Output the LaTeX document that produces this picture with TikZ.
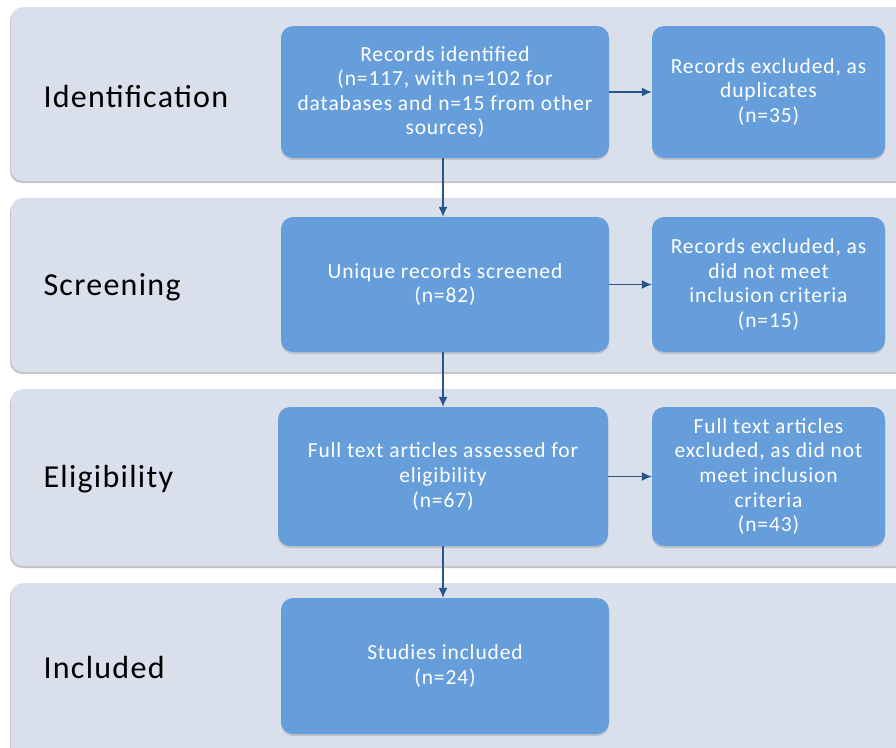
\documentclass[tikz,border=0pt]{standalone}
\usepackage{fontspec}
\setmainfont{Carlito}[LetterSpace=4]
\usepackage{tikz}
\usetikzlibrary{arrows.meta,shadows}

\begin{document}
\begin{tikzpicture}[x=1pt,y=-1pt,
  band/.style={fill=bandfill,rounded corners=12pt,drop shadow={shadow xshift=-1pt,shadow yshift=-2pt,opacity=0.45}},
  stage/.style={anchor=west,font=\fontsize{32}{38}\selectfont,text=black},
  box/.style={fill=boxfill,rounded corners=12pt,text=white,align=center,inner sep=0pt,
    font=\fontsize{21.5}{24.6}\selectfont,drop shadow={shadow xshift=0pt,shadow yshift=-2pt,opacity=0.3}},
  flow/.style={draw=arrowcol,line width=1.4pt,-{Latex[length=10pt,width=9pt]}}]
% Define colors
\definecolor{bandfill}{RGB}{217,223,235}
\definecolor{boxfill}{RGB}{102,158,219}
\definecolor{arrowcol}{RGB}{40,86,140}

% Page frame
\clip (0,0) rectangle (896,747);
\fill[white] (0,0) rectangle (896,747);

% Draw stage bands
\fill[band] (11,7) rectangle (910,181);
\fill[band] (11,198) rectangle (910,372);
\fill[band] (11,389) rectangle (910,566);
\fill[band] (11,583) rectangle (910,770);

% Stage names
\node[stage] (ident) at (40,97) {Identification};
\node[stage] (screen) at (40,287) {Screening};
\node[stage] (elig) at (40,479) {Eligibility};
\node[stage] (incl) at (40,667) {Included};

% Main flow boxes
\node[box,minimum width=328pt,minimum height=132pt] (found) at (445,92)
  {Records identified\\(n=117, with n=102 for\\databases and n=15 from other\\sources)};
\node[box,minimum width=328pt,minimum height=135pt] (unique) at (445,284.5)
  {Unique records screened\\(n=82)};
\node[box,minimum width=330pt,minimum height=139pt] (fulltext) at (443,476.5)
  {Full text articles assessed for\\eligibility\\(n=67)};
\node[box,minimum width=328pt,minimum height=136pt] (studies) at (445,666)
  {Studies included\\(n=24)};

% Exclusion boxes
\node[box,minimum width=233pt,minimum height=132pt] (dups) at (768.5,92)
  {Records excluded, as\\duplicates\\(n=35)};
\node[box,minimum width=233pt,minimum height=135pt] (notmeet) at (768.5,284.5)
  {Records excluded, as\\did not meet\\inclusion criteria\\(n=15)};
\node[box,minimum width=233pt,minimum height=139pt] (ftexcl) at (768.5,476.5)
  {Full text articles\\excluded, as did not\\meet inclusion\\criteria\\(n=43)};

% Draw arrows
\draw[flow] (found.south -| 443,0) -- (unique.north -| 443,0);
\draw[flow] (unique.south -| 443,0) -- (fulltext.north -| 443,0);
\draw[flow] (fulltext.south -| 443,0) -- (studies.north -| 443,0);
\draw[flow] (found.east) -- (dups.west);
\draw[flow] (unique.east) -- (notmeet.west);
\draw[flow] (fulltext.east) -- (ftexcl.west);
\end{tikzpicture}
\end{document}
